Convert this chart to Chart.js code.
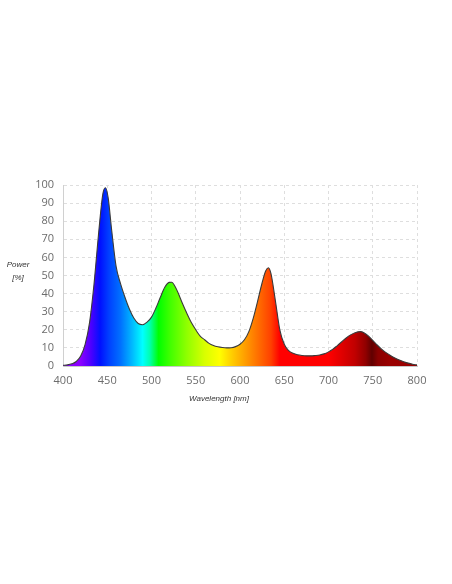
<!DOCTYPE html>
<html>
<head>
<meta charset="utf-8">
<script src="https://cdn.jsdelivr.net/npm/chart.js@4"></script>
<style>
  html, body { margin: 0; padding: 0; background: #fff; }
  #wrap { width: 452px; height: 584px; }
</style>
</head>
<body>
<div id="wrap"><canvas id="myChart" width="452" height="584"></canvas></div>
<script>
// spectrum
const wavelengths = [400, 405, 410, 415, 420, 425, 430, 435, 440, 445, 448, 451, 455, 460, 465, 470, 475, 480, 485, 490,
    495, 500, 505, 510, 515, 520, 523, 526, 530, 535, 540, 545, 550, 555, 560, 565, 570, 575, 580, 585,
    590, 595, 600, 605, 610, 615, 620, 625, 629, 632, 635, 640, 645, 650, 655, 660, 665, 670, 675, 680,
    685, 690, 695, 700, 705, 710, 715, 720, 725, 730, 736, 740, 745, 750, 755, 760, 765, 770, 775, 780,
    785, 790, 795, 800];
const power = [0.4, 0.6, 1.2, 2.5, 5.5, 12, 24, 45, 72, 95, 98.5, 93, 75, 55, 45.5, 38, 31.5, 26.5, 23.5, 22.8,
    24.2, 27, 32, 38, 43.5, 46.2, 46.3, 44.5, 40.5, 34.5, 29, 24, 20, 16.5, 14.5, 12.5, 11.3, 10.6, 10.2, 10,
    10.1, 10.7, 12, 14.5, 19, 26.5, 36, 46, 52.5, 54.3, 51, 36, 20, 12, 8.5, 7, 6.2, 5.8, 5.6, 5.6,
    5.8, 6.1, 6.7, 7.8, 9.3, 11.3, 13.4, 15.5, 17.2, 18.4, 19, 18.4, 16.6, 14.2, 11.6, 9.3, 7.4, 5.8, 4.4, 3.3,
    2.4, 1.6, 1, 0.6];
const xTicks = [400, 450, 500, 550, 600, 650, 700, 750, 800];
const yTicks = [0, 10, 20, 30, 40, 50, 60, 70, 80, 90, 100];

// rainbow fill, stops by wavelength
const stopNm = [400, 420, 432, 442, 452, 465, 478, 490, 498, 508, 520, 540, 560, 577, 590, 605, 620, 635, 645, 700, 715, 730, 742, 749, 756, 770, 800];
const stopColors = ['#8a00ff', '#8a00ff', '#4a00ff', '#0010ff', '#0040ff', '#0070ff', '#00b8ff', '#00ffff', '#00ffb0', '#00ff00',
    '#3cff00', '#90ff00', '#d8ff00', '#ffff00', '#ffd000', '#ffa000', '#ff7000', '#ff4000', '#ff0000', '#ff0000',
    '#e00000', '#c00000', '#900000', '#600000', '#8a0000', '#9a0000', '#9a0000'];

const spectrumFill = (context) => {
    const chart = context.chart;
    if (!chart.chartArea) return null;
    const xs = chart.scales.x;
    const x0 = xs.getPixelForValue(400);
    const x1 = xs.getPixelForValue(800);
    const g = chart.ctx.createLinearGradient(x0, 0, x1, 0);
    for (let i = 0; i < stopNm.length; i++) {
        g.addColorStop((stopNm[i] - 400) / 400, stopColors[i]);
    }
    return g;
};

const axisLabels = {
    id: 'axisLabels',
    afterDraw(chart) {
        const ctx = chart.ctx;
        const area = chart.chartArea;
        ctx.save();
        ctx.fillStyle = '#333';
        ctx.font = 'italic 8px "Liberation Sans", Arial, sans-serif';
        ctx.textAlign = 'center';
        ctx.textBaseline = 'middle';
        ctx.fillText('Power', area.left - 45, area.top + 80);
        ctx.fillText('[%]', area.left - 45, area.top + 93);
        ctx.fillText('Wavelength [nm]', area.left + 156, area.bottom + 33);
        ctx.restore();
    }
};

Chart.defaults.font.family = '"Open Sans", sans-serif';

const ctx = document.getElementById('myChart').getContext('2d');
const myChart = new Chart(ctx, {
    type: 'line',
    data: {
        datasets: [{
            data: wavelengths.map((w, i) => ({ x: w, y: power[i] })),
            borderColor: '#3a3a3a',
            borderWidth: 1.1,
            backgroundColor: spectrumFill,
            fill: 'origin',
            pointRadius: 0,
            tension: 0.4,
            cubicInterpolationMode: 'monotone'
        }]
    },
    options: {
        responsive: false,
        animation: false,
        layout: { padding: { top: 185, right: 35, bottom: 188, left: 0 } },
        plugins: { legend: { display: false }, tooltip: { enabled: false } },
        scales: {
            x: {
                type: 'linear',
                min: 400,
                max: 800,
                afterBuildTicks: (scale) => { scale.ticks = xTicks.map(v => ({ value: v })); },
                afterFit: (scale) => { scale.height = 30; },
                ticks: { color: '#6c6c6c', font: { size: 11 }, padding: 8 },
                grid: { color: '#dedede', drawTicks: false },
                border: { color: '#c8c8c8', dash: [3, 3] }
            },
            y: {
                min: 0,
                max: 100,
                afterBuildTicks: (scale) => { scale.ticks = yTicks.map(v => ({ value: v })); },
                afterFit: (scale) => { scale.width = 63; },
                ticks: { color: '#6c6c6c', font: { size: 11 }, padding: 9 },
                grid: { color: '#dedede', drawTicks: false },
                border: { color: '#d0d0d0', dash: [3, 3] }
            }
        }
    },
    plugins: [axisLabels]
});
</script>
</body>
</html>
